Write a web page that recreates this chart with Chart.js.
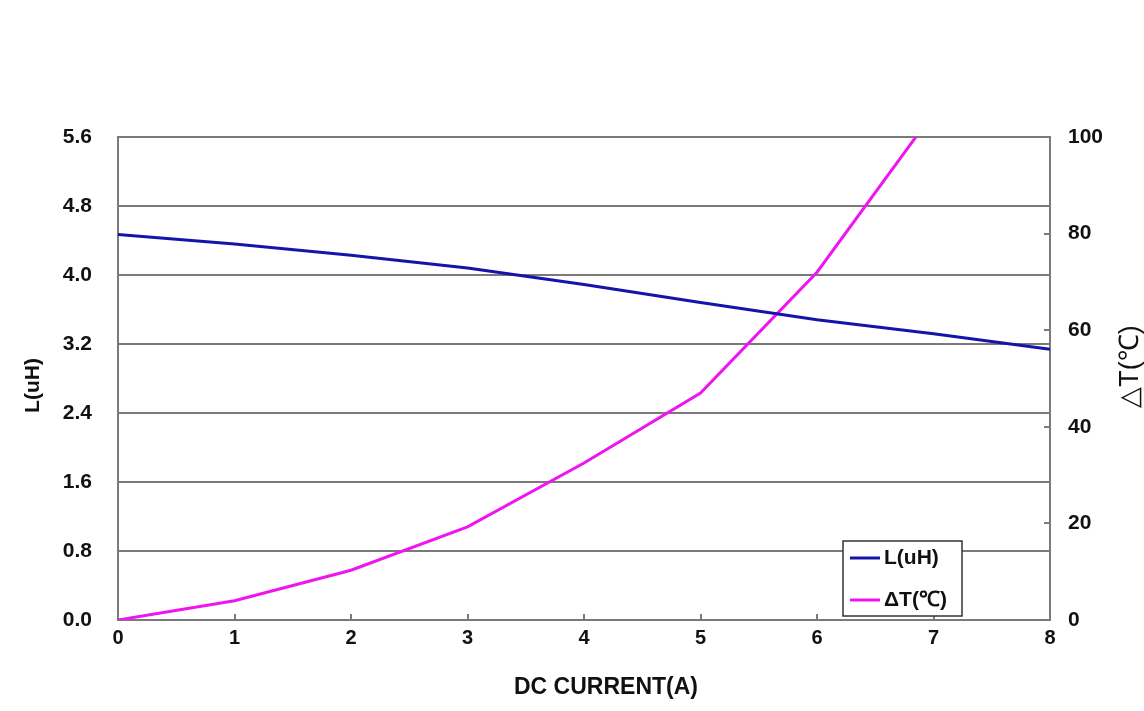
<!DOCTYPE html>
<html><head><meta charset="utf-8">
<script src="https://cdn.jsdelivr.net/npm/chart.js@4.4.0/dist/chart.umd.min.js"></script>
<style>html,body{margin:0;padding:0;background:#fff}canvas{display:block}</style>
</head><body>
<canvas id="c" width="1144" height="711"></canvas>
<script>
const current = [0, 1, 2, 3, 4, 5, 6, 7, 8];
const inductance = [4.47, 4.36, 4.23, 4.08, 3.89, 3.68, 3.48, 3.32, 3.14];
const tempRise = [0, 4.0, 10.3, 19.3, 32.5, 47, 72, 105, null];
const leftTicks = [0, 0.8, 1.6, 2.4, 3.2, 4.0, 4.8, 5.6];
const rightTicks = [0, 20, 40, 60, 80, 100];
const xTicks = [0, 1, 2, 3, 4, 5, 6, 7, 8];
const seriesNames = ['L(uH)', 'ΔT(℃)'];
const xTitle = 'DC CURRENT(A)';
const leftTitle = 'L(uH)';
const rightTitle = '△T(℃)';

const FONT = '"Liberation Sans", Arial, sans-serif';
const GRID = '#7a7a7a';

const extras = {
  id: 'extras',
  afterDatasetsDraw(chart) {
    const {ctx, chartArea: a, scales} = chart;
    ctx.save();
    ctx.strokeStyle = GRID;
    ctx.lineWidth = 2;
    xTicks.slice(1, -1).forEach(v => {
      const px = Math.round(scales.x.getPixelForValue(v));
      ctx.beginPath(); ctx.moveTo(px, a.bottom); ctx.lineTo(px, a.bottom - 6); ctx.stroke();
    });
    rightTicks.slice(1, -1).forEach(v => {
      const py = Math.round(scales.y1.getPixelForValue(v));
      ctx.beginPath(); ctx.moveTo(a.right, py); ctx.lineTo(a.right - 6, py); ctx.stroke();
    });
    ctx.restore();
  },
  afterDraw(chart) {
    const {ctx, chartArea: a} = chart;
    const midY = (a.top + a.bottom) / 2;
    const midX = (a.left + a.right) / 2;
    ctx.save();
    ctx.fillStyle = '#111';
    ctx.textAlign = 'center';
    ctx.textBaseline = 'middle';
    // x axis title
    ctx.font = 'bold 23px ' + FONT;
    ctx.fillText(xTitle, midX + 22, chart.scales.x.bottom - 23);
    // left axis title
    ctx.save();
    ctx.translate(33, midY + 7);
    ctx.rotate(-Math.PI / 2);
    ctx.font = 'bold 21px ' + FONT;
    ctx.fillText(leftTitle, 0, 0);
    ctx.restore();
    // right axis title, reading bottom to top
    ctx.save();
    ctx.translate(chart.scales.y1.right - 13, midY - 12);
    ctx.rotate(-Math.PI / 2);
    ctx.font = '27px ' + FONT;
    ctx.fillText(rightTitle, 0, 0);
    ctx.restore();
    ctx.restore();
    // legend box inside plot
    const bx = a.right - 207, by = a.bottom - 79, bw = 119, bh = 75;
    ctx.save();
    ctx.fillStyle = '#fff';
    ctx.fillRect(bx, by, bw, bh);
    ctx.strokeStyle = '#333';
    ctx.lineWidth = 1.5;
    ctx.strokeRect(bx, by, bw, bh);
    ctx.font = 'bold 21px ' + FONT;
    ctx.textBaseline = 'middle';
    ctx.fillStyle = '#111';
    chart.data.datasets.forEach((ds, i) => {
      const y = by + 17 + i * 42;
      ctx.strokeStyle = ds.borderColor;
      ctx.lineWidth = 3;
      ctx.beginPath(); ctx.moveTo(bx + 7, y); ctx.lineTo(bx + 37, y); ctx.stroke();
      ctx.fillText(ds.label, bx + 41, y);
    });
    ctx.restore();
  }
};

new Chart(document.getElementById('c'), {
  type: 'line',
  data: {
    labels: current,
    datasets: [
      { label: seriesNames[0], data: current.map((x, i) => ({x, y: inductance[i]})),
        borderColor: '#1414aa', borderWidth: 3, pointRadius: 0, tension: 0, yAxisID: 'y' },
      { label: seriesNames[1], data: current.map((x, i) => ({x, y: tempRise[i]})),
        borderColor: '#f014f0', borderWidth: 3, pointRadius: 0, tension: 0, yAxisID: 'y1' }
    ]
  },
  plugins: [extras],
  options: {
    responsive: false,
    animation: false,
    layout: { padding: { top: 137, left: 0, right: 0, bottom: 0 } },
    plugins: { legend: { display: false }, tooltip: { enabled: false } },
    scales: {
      x: {
        type: 'linear', min: 0, max: 8,
        afterBuildTicks: s => { s.ticks = xTicks.map(v => ({value: v})); },
        afterFit: s => { s.height = 91; },
        grid: { display: false, drawTicks: false },
        border: { display: true, color: GRID, width: 2 },
        ticks: { padding: 6, color: '#111', font: { family: FONT, size: 20, weight: 'bold' }, maxRotation: 0 }
      },
      y: {
        position: 'left', min: 0, max: 5.6,
        afterBuildTicks: s => { s.ticks = leftTicks.map(v => ({value: v})); },
        afterFit: s => { s.width = 118; },
        grid: { color: GRID, lineWidth: 2, drawTicks: false },
        border: { display: true, color: GRID, width: 2 },
        ticks: { padding: 26, color: '#111', font: { family: FONT, size: 21, weight: 'bold' },
                 callback: v => Number(v).toFixed(1) }
      },
      y1: {
        position: 'right', min: 0, max: 100,
        afterBuildTicks: s => { s.ticks = rightTicks.map(v => ({value: v})); },
        afterFit: s => { s.width = 94; },
        grid: { display: false, drawTicks: false },
        border: { display: true, color: GRID, width: 2 },
        ticks: { padding: 18, color: '#111', font: { family: FONT, size: 21, weight: 'bold' } }
      }
    }
  },
});
</script>
</body></html>
